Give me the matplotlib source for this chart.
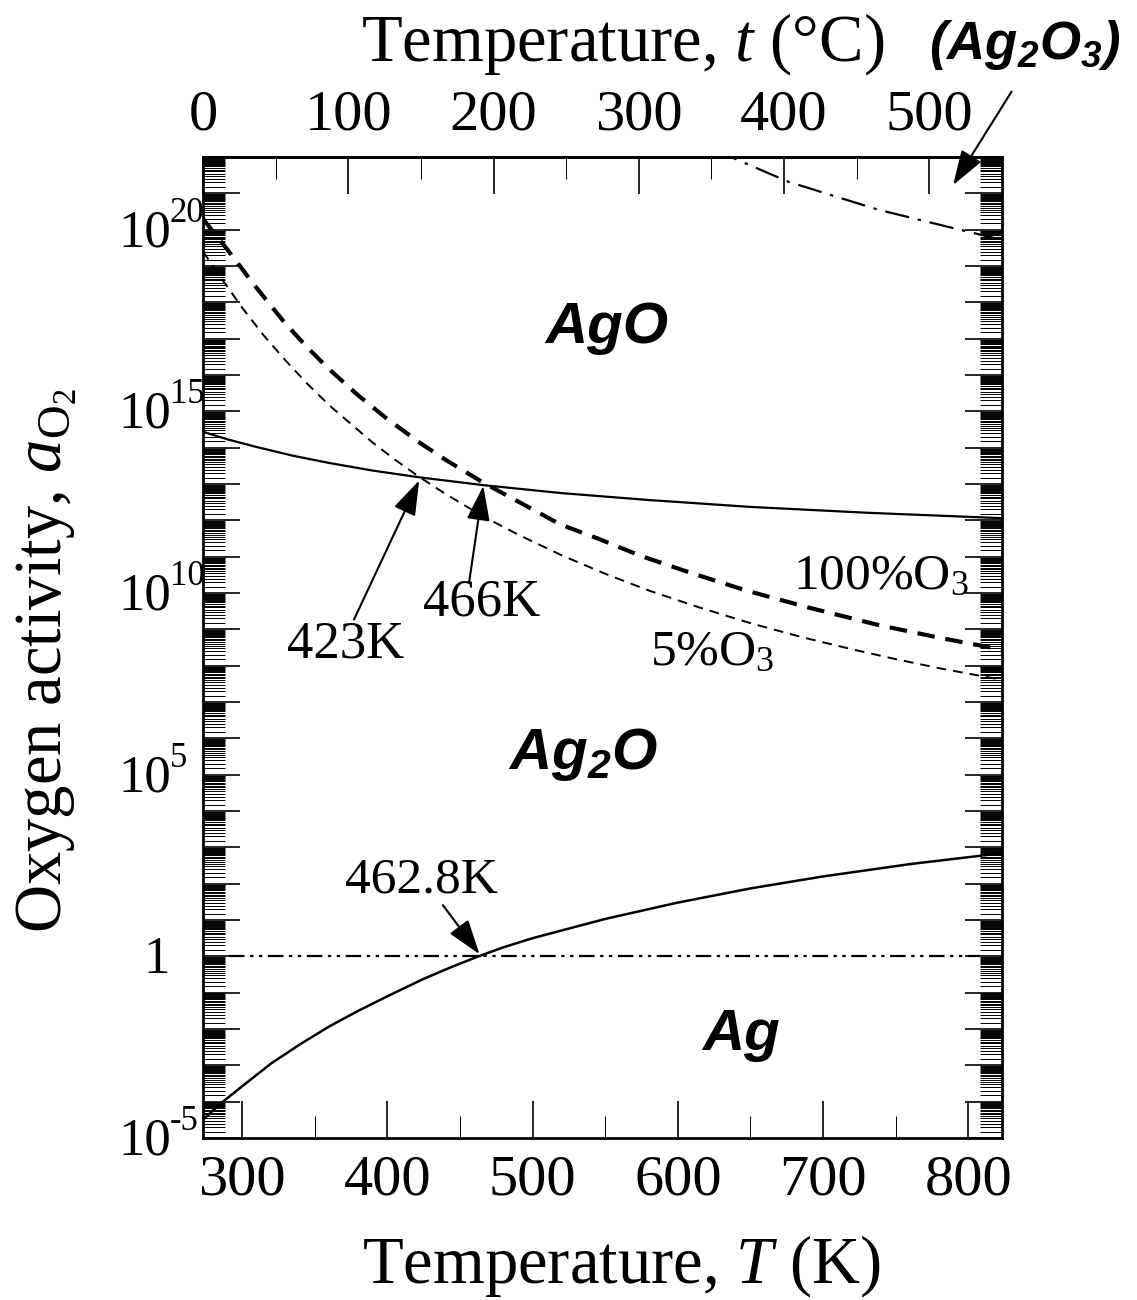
import numpy as np
import matplotlib
matplotlib.use('Agg')
import matplotlib.pyplot as plt
from matplotlib.ticker import LogLocator, MultipleLocator, NullFormatter
from matplotlib.transforms import ScaledTranslation

plt.rcParams['font.family'] = ['Liberation Serif', 'DejaVu Serif']
plt.rcParams['mathtext.fontset'] = 'custom'
plt.rcParams['mathtext.rm'] = 'Liberation Serif'
plt.rcParams['mathtext.it'] = 'Liberation Serif:italic'
plt.rcParams['mathtext.bf'] = 'Liberation Sans:bold:italic'

# Datos (T en K, log10 de la actividad de O2)
T_ag = [273.15, 285, 300, 320, 340, 360, 380, 400, 425, 445, 462.8, 480, 500, 550, 600, 650, 700, 760, 823.15]
log_ag = [-4.5, -4.06, -3.58, -2.95, -2.42, -1.93, -1.5, -1.1, -0.62, -0.28, 0.0, 0.25, 0.5, 1.03, 1.48, 1.87, 2.2, 2.54, 2.84]

T_ago = [273.15, 290, 310, 335, 360, 390, 423, 466, 520, 580, 650, 730, 823.15]
log_ago = [14.44, 14.23, 14.02, 13.78, 13.58, 13.37, 13.18, 12.97, 12.75, 12.56, 12.37, 12.21, 12.06]

T_o3_100 = [273.15, 290, 299, 308, 330, 345, 360, 380, 400, 423, 440, 466, 490, 519, 545, 574, 610, 647, 690, 738, 780, 823.15]
log_o3_100 = [20.3, 19.45, 18.98, 18.5, 17.41, 16.76, 16.16, 15.44, 14.79, 14.12, 13.67, 13.04, 12.52, 11.89, 11.5, 11.03, 10.54, 10.07, 9.6, 9.12, 8.77, 8.44]

T_o3_5 = [273.15, 285, 300, 315, 330, 345, 360, 390, 405, 423, 440, 466, 490, 520, 550, 580, 615, 650, 685, 720, 750, 780, 823.15]
log_o3_5 = [19.4, 18.71, 17.86, 17.09, 16.4, 15.76, 15.17, 14.14, 13.68, 13.17, 12.73, 12.11, 11.61, 11.04, 10.53, 10.07, 9.6, 9.17, 8.79, 8.45, 8.18, 7.93, 7.61]

T_ag2o3 = [625, 676, 738, 790, 823.15]
log_ag2o3 = [22.2, 21.32, 20.55, 20.04, 19.72]

T_unity = [291, 808]
a_unity = [1, 1]

ytick_exp = [-5, 0, 5, 10, 15, 20]

T0 = 273.15
Tmin, Tmax = 273.15, 823.15

fig = plt.figure(figsize=(11.37, 13), dpi=100)
ax = fig.add_axes([0.1785, 0.1246, 0.7028, 0.7546])

ax.plot(T_ag, 10.0 ** np.array(log_ag), color='k', lw=1.8)
ax.plot(T_ago, 10.0 ** np.array(log_ago), color='k', lw=1.6)
ax.plot(T_o3_100, 10.0 ** np.array(log_o3_100), color='k', lw=3.0, dashes=(4.2, 2.6))
ax.plot(T_o3_5, 10.0 ** np.array(log_o3_5), color='k', lw=1.4, dashes=(5, 3.6))
ax.plot(T_ag2o3, 10.0 ** np.array(log_ag2o3), color='k', lw=1.6, dashes=(11, 4, 1.5, 4))
ax.plot(T_unity, a_unity, color='k', lw=1.6, dashes=(7, 2.5, 1.5, 2.5, 1.5, 2.5))

ax.set_yscale('log')
ax.set_xlim(Tmin, Tmax)
ax.set_ylim(1e-5, 1e22)

# ejes y marcas
ax.yaxis.set_major_locator(LogLocator(base=10, numticks=100))
ax.yaxis.set_minor_locator(LogLocator(base=10, subs=np.arange(1.5, 10, 0.5), numticks=100))
ax.yaxis.set_major_formatter(NullFormatter())
ax.yaxis.set_minor_formatter(NullFormatter())
ax.xaxis.set_major_locator(MultipleLocator(100))
ax.xaxis.set_minor_locator(MultipleLocator(50))

ax.tick_params(axis='both', which='both', direction='in')
ax.tick_params(axis='y', which='both', left=True, right=True)
ax.tick_params(axis='x', which='both', top=False, bottom=True)
ax.tick_params(which='major', length=26.5, width=1.2)
ax.tick_params(which='minor', length=16, width=0.7)
ax.tick_params(axis='x', which='major', labelsize=42, pad=12)
for s in ax.spines.values():
    s.set_linewidth(2.0)

secax = ax.secondary_xaxis('top', functions=(lambda T: T - T0, lambda t: t + T0))
secax.xaxis.set_major_locator(MultipleLocator(100))
secax.xaxis.set_minor_locator(MultipleLocator(50))
secax.tick_params(which='both', direction='in')
secax.tick_params(which='major', length=26.5, width=1.2, labelsize=42, pad=11)
secax.tick_params(which='minor', length=16, width=0.7)
secax.spines['top'].set_linewidth(2.0)

# etiquetas del eje y
ytr = ax.get_yaxis_transform()
for e in ytick_exp:
    base = ytr + ScaledTranslation(0, -0.165, fig.dpi_scale_trans)
    if e == 0:
        ax.text(-0.058, 1.0, '1', transform=base, ha='center', va='baseline', fontsize=38)
        continue
    ax.text(-0.1064, 10.0 ** e, '10', transform=base, ha='left', va='baseline', fontsize=38)
    sup = ytr + ScaledTranslation(0.52, 0.08, fig.dpi_scale_trans)
    ax.text(-0.1064, 10.0 ** e, str(e), transform=sup, ha='left', va='baseline', fontsize=25)

ax.set_xlabel(r'Temperature, $T$ (K)', fontsize=48)
ax.xaxis.set_label_coords(0.524, -0.097)
fig.text(623 / 1137, 1 - 44 / 1300, 'Temperature, $t$ (\u00b0C)', fontsize=48,
         ha='center', va='center')
ax.set_ylabel(r'Oxygen activity, $a_{\mathrm{O}_2}$', fontsize=48)
ax.yaxis.set_label_coords(-0.155, 0.487)

# campos de estabilidad
ax.text(551, 10 ** 17.29, 'AgO', fontsize=42, family='Liberation Sans', weight='bold', style='italic', ha='center', va='center')
ax.text(534.7, 10 ** 5.55, r'$\mathbf{Ag_2O}$', fontsize=42, ha='center', va='center')
ax.text(643.4, 10 ** -2.17, 'Ag', fontsize=42, family='Liberation Sans', weight='bold', style='italic', ha='center', va='center')
ax.text(838.9, 10 ** 25.08, r'$\mathbf{(Ag_2O_3)}$', fontsize=38, ha='center', va='center', clip_on=False)

# anotaciones
ax.text(371.6, 10 ** 8.57, '423K', fontsize=38, ha='center', va='center')
ax.text(465.2, 10 ** 9.75, '466K', fontsize=38, ha='center', va='center')
ax.text(423.2, 10 ** 2.10, '462.8K', fontsize=37, ha='center', va='center')
ax.text(740, 10 ** 10.45, r'100%O$_3$', fontsize=37, ha='center', va='center')
ax.text(623.5, 10 ** 8.35, r'5%O$_3$', fontsize=37, ha='center', va='center')

arrow = dict(arrowstyle='-|>,head_length=0.6,head_width=0.2', mutation_scale=36,
             color='k', lw=1.5, shrinkA=0, shrinkB=0)
ax.annotate('', xy=(422, 10 ** 13.1), xytext=(377.1, 10 ** 9.27), arrowprops=arrow)
ax.annotate('', xy=(466.1, 10 ** 12.95), xytext=(456.4, 10 ** 10.31), arrowprops=arrow)
ax.annotate('', xy=(463.5, 10 ** 0.06), xytext=(438.3, 10 ** 1.41), arrowprops=arrow)
ax.annotate('', xy=(789.5, 10 ** 21.23), xytext=(829.7, 10 ** 23.8), arrowprops=arrow,
            annotation_clip=False)

fig.savefig('out.png', dpi=100)
